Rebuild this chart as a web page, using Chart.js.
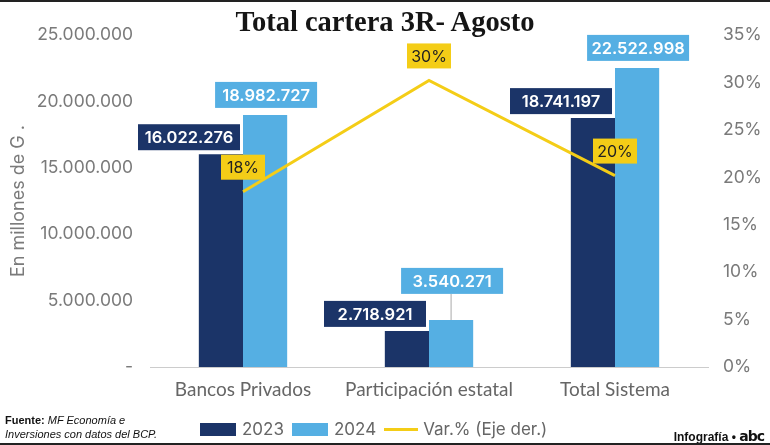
<!DOCTYPE html>
<html>
<head>
<meta charset="utf-8">
<script src="https://cdn.jsdelivr.net/npm/chart.js@4"></script>
<style>
  html, body { margin: 0; padding: 0; background: #fff; }
  #wrap { position: relative; width: 770px; height: 445px; overflow: hidden; border-top: 2px solid #222; border-bottom: 2px solid #222; box-sizing: border-box; }
  #chart { position: absolute; left: 0; top: -2px; }
  #title { position: absolute; left: 0; width: 770px; top: 4px; text-align: center; font-family: "Liberation Serif", serif; font-weight: bold; font-size: 28.5px; color: #151515; }
  #legend { position: absolute; top: 417px; left: 200px; font-family: "Inter", sans-serif; font-size: 17px; color: #666; display: flex; align-items: center; }
  #legend .sw { display: inline-block; width: 36px; height: 13px; margin-right: 6px; }
  #legend .ln { display: inline-block; width: 34px; height: 3px; margin-right: 5px; }
  #legend span.t { margin-right: 8px; }
  #fuente { position: absolute; left: 5px; top: 411px; font-family: "Liberation Sans Narrow", "Liberation Sans", sans-serif; font-size: 11px; line-height: 14px; color: #111; }
  #firma { position: absolute; right: 6px; top: 426px; font-family: "Liberation Sans Narrow", "Liberation Sans", sans-serif; font-size: 12px; font-weight: bold; color: #111; }
</style>
</head>
<body>
<div id="wrap">
  <canvas id="chart" width="770" height="445"></canvas>
  <div id="title">Total cartera 3R- Agosto</div>
  <div id="fuente"><b>Fuente:</b> <i>MF Economía e<br>Inversiones con datos del BCP.</i></div>
  <div id="legend">
    <span class="sw" style="background:#1b3468"></span><span class="t">2023</span>
    <span class="sw" style="background:#55afe3"></span><span class="t">2024</span>
    <span class="ln" style="background:#f4cd17"></span><span class="t">Var.% (Eje der.)</span>
  </div>
  <div id="firma">Infografía • <span style="font-family:'DejaVu Sans';font-size:14px;letter-spacing:-1px">abc</span></div>
</div>
<script>
// --- DATA ---
const categories = ['Bancos Privados', 'Participación estatal', 'Total Sistema'];
const values2023 = [16022276, 2718921, 18741197];
const values2024 = [18982727, 3540271, 22522998];
const variation = [18.48, 30.21, 20.18];
const variationLabels = ['18%', '30%', '20%'];
const leftTicks = [0, 5000000, 10000000, 15000000, 20000000, 25000000];
const rightTicks = [0, 5, 10, 15, 20, 25, 30, 35];

const DARK = '#1b3468';
const LIGHT = '#55afe3';
const YELLOW = '#f4cd17';

function fmt(n) {
    return String(n).replace(/\B(?=(\d{3})+(?!\d))/g, '.');
}

function drawBox(ctx, text, cx, bottom, bg, color, font, w, h) {
    ctx.font = font;
    ctx.fillStyle = bg;
    ctx.fillRect(cx - w / 2, bottom - h, w, h);
    ctx.fillStyle = color;
    ctx.textAlign = 'center';
    ctx.textBaseline = 'middle';
    ctx.fillText(text, cx, bottom - h / 2 + 1);
}

// custom labels: boxes over bars and line points
const boxLabels = {
    id: 'boxLabels',
    afterDatasetsDraw(chart) {
        const ctx = chart.ctx;
        const dark = chart.getDatasetMeta(0).data;
        const light = chart.getDatasetMeta(1).data;
        const line = chart.getDatasetMeta(2).data;
        const numFont = '600 16.5px Inter, sans-serif';
        ctx.save();
        for (let i = 0; i < categories.length; i++) {
            const d = dark[i], l = light[i];
            // dark label: right aligned to bar, sitting above it
            const dw = 102, h = 26;
            const dRight = d.x + d.width / 2 - 3;
            const dBottom = d.y - 4;
            drawBox(ctx, fmt(values2023[i]), dRight - dw / 2, dBottom, DARK, '#fff', numFont, dw, h);
            // light label: above the bar, kept above the dark label
            const lBottom = Math.min(l.y - 7, dBottom - h - 7);
            if (l.y - lBottom > 12) {
                ctx.strokeStyle = '#aaa';
                ctx.lineWidth = 1;
                ctx.beginPath();
                ctx.moveTo(l.x, lBottom);
                ctx.lineTo(l.x, l.y);
                ctx.stroke();
            }
            drawBox(ctx, fmt(values2024[i]), l.x + 1, lBottom, LIGHT, '#fff', numFont, dw, h);
        }
        for (let i = 0; i < line.length; i++) {
            const p = line[i];
            drawBox(ctx, variationLabels[i], p.x, p.y - 12, YELLOW, '#222', '16px Inter, sans-serif', 44, 25);
        }
        ctx.restore();
    }
};

const ctx = document.getElementById('chart').getContext('2d');
new Chart(ctx, {
    data: {
        labels: categories,
        datasets: [
            {
                type: 'bar',
                label: '2023',
                data: values2023,
                backgroundColor: DARK,
                categoryPercentage: 0.475,
                barPercentage: 1,
                yAxisID: 'y',
                order: 2
            },
            {
                type: 'bar',
                label: '2024',
                data: values2024,
                backgroundColor: LIGHT,
                categoryPercentage: 0.475,
                barPercentage: 1,
                yAxisID: 'y',
                order: 2
            },
            {
                type: 'line',
                label: 'Var.% (Eje der.)',
                data: variation,
                borderColor: YELLOW,
                borderWidth: 3,
                pointRadius: 0,
                tension: 0,
                yAxisID: 'y1',
                order: 1
            }
        ]
    },
    options: {
        responsive: false,
        animation: false,
        layout: { padding: { top: 35, bottom: 0, left: 0, right: 0 } },
        plugins: {
            legend: { display: false },
            tooltip: { enabled: false }
        },
        scales: {
            x: {
                grid: { display: false },
                border: { color: '#ccc', width: 1 },
                ticks: { color: '#666', font: { family: 'Lato, sans-serif', size: 19 }, padding: 3 },
                afterFit: function(axis) { axis.height = 78; }
            },
            y: {
                position: 'left',
                min: 0,
                max: 25000000,
                afterBuildTicks: function(axis) { axis.ticks = leftTicks.map(v => ({ value: v })); },
                grid: { display: false },
                border: { display: false },
                ticks: {
                    color: '#7a7a7a',
                    padding: 9,
                    font: { family: 'Inter, sans-serif', size: 17.5 },
                    callback: function(v) { return v === 0 ? '-' : fmt(v); }
                },
                title: {
                    display: true,
                    text: 'En millones de G .',
                    color: '#7a7a7a',
                    font: { family: 'Inter, sans-serif', size: 18 },
                    padding: { top: 8, bottom: 0 }
                },
                afterFit: function(axis) { axis.width = 150; }
            },
            y1: {
                position: 'right',
                min: 0,
                max: 35,
                afterBuildTicks: function(axis) { axis.ticks = rightTicks.map(v => ({ value: v })); },
                grid: { display: false },
                border: { display: false },
                ticks: {
                    color: '#7a7a7a',
                    padding: 7,
                    font: { family: 'Inter, sans-serif', size: 17.5 },
                    callback: function(v) { return v + '%'; }
                },
                afterFit: function(axis) { axis.width = 62; }
            }
        }
    },
    plugins: [boxLabels]
});
</script>
</body>
</html>
